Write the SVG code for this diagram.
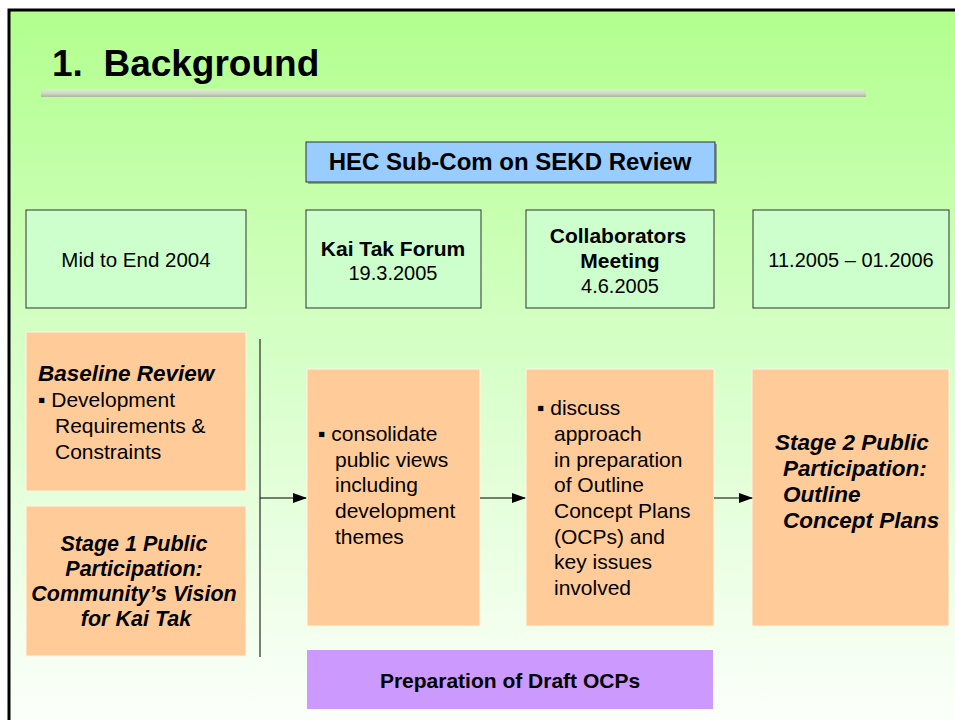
<svg xmlns="http://www.w3.org/2000/svg" width="955" height="720" viewBox="0 0 955 720">
  <defs>
    <linearGradient id="bg" x1="0" y1="0" x2="0" y2="1">
      <stop offset="0" stop-color="#b2ff8e"/>
      <stop offset="0.45" stop-color="#d4ffc4"/>
      <stop offset="1" stop-color="#fdfffc"/>
    </linearGradient>
    <linearGradient id="bar" x1="0" y1="0" x2="0" y2="1">
      <stop offset="0" stop-color="#dfead4"/>
      <stop offset="0.5" stop-color="#d0dcc4"/>
      <stop offset="1" stop-color="#a8b89c"/>
    </linearGradient>
    <marker id="arrow" markerWidth="14" markerHeight="10" refX="13" refY="5" orient="auto" markerUnits="userSpaceOnUse">
      <path d="M0,0 L14,5 L0,10 Z" fill="#000"/>
    </marker>
  </defs>
  <style>
    text { font-family: "Liberation Sans", Arial, sans-serif; fill: #000; }
    .title { font-size: 37px; font-weight: bold; white-space: pre; }
    .date { fill: #ccffcc; stroke: #333; stroke-width: 1; }
    .orange { fill: #ffcc99; stroke: #fff5e8; stroke-width: 1; }
    .b { font-weight: bold; }
    .bi { font-weight: bold; font-style: italic; font-size: 22.5px; }
    .bi1 { font-weight: bold; font-style: italic; font-size: 21.5px; }
    .t21 { font-size: 21px; }
    .d { font-size: 20px; }
    .mid { text-anchor: middle; }
    .conn { stroke: #000; stroke-width: 1; fill: none; }
  </style>

  <rect x="9" y="10" width="960" height="720" fill="url(#bg)" stroke="#000" stroke-width="3"/>

  <g id="title">
    <text class="title" x="52" y="76">1.  Background</text>
    <rect x="41" y="89" width="825" height="8" fill="url(#bar)"/>
  </g>

  <g id="hec">
    <rect x="308" y="144" width="409" height="40" fill="#555" opacity="0.5"/>
    <rect x="306" y="142" width="409" height="40" fill="#99ccff" stroke="#333" stroke-width="1"/>
    <text class="b mid" x="510" y="170" font-size="24">HEC Sub-Com on SEKD Review</text>
  </g>

  <g id="date1">
    <rect class="date" x="26" y="210" width="220" height="98"/>
    <text class="mid" x="136" y="267" font-size="20.5">Mid to End 2004</text>
  </g>
  <g id="date2">
    <rect class="date" x="306" y="210" width="175" height="98"/>
    <text class="b mid" x="393" y="256" font-size="21">Kai Tak Forum</text>
    <text class="d mid" x="393" y="280">19.3.2005</text>
  </g>
  <g id="date3">
    <rect class="date" x="526" y="210" width="188" height="98"/>
    <text class="b mid" x="618" y="243" font-size="21">Collaborators</text>
    <text class="b mid" x="620" y="268" font-size="21">Meeting</text>
    <text class="d mid" x="620" y="293">4.6.2005</text>
  </g>
  <g id="date4">
    <rect class="date" x="753" y="210" width="196" height="98"/>
    <text class="d mid" x="851" y="267">11.2005 – 01.2006</text>
  </g>

  <g id="baseline">
    <rect class="orange" x="26" y="332" width="220" height="159"/>
    <text class="bi" x="38" y="381">Baseline Review</text>
    <text class="t21" x="38" y="407">▪ Development</text>
    <text class="t21" x="55" y="433">Requirements &amp;</text>
    <text class="t21" x="55" y="459">Constraints</text>
  </g>

  <g id="stage1">
    <rect class="orange" x="26" y="506" width="220" height="150"/>
    <text class="bi1 mid" x="134" y="551">Stage 1 Public</text>
    <text class="bi1 mid" x="134" y="576">Participation:</text>
    <text class="bi1 mid" x="134" y="601">Community’s Vision</text>
    <text class="bi1 mid" x="136" y="626">for Kai Tak</text>
  </g>

  <g id="consolidate">
    <rect class="orange" x="307" y="369" width="173" height="257"/>
    <text class="t21" x="318" y="441">▪ consolidate</text>
    <text class="t21" x="335" y="467">public views</text>
    <text class="t21" x="335" y="492">including</text>
    <text class="t21" x="335" y="518">development</text>
    <text class="t21" x="335" y="544">themes</text>
  </g>

  <g id="discuss">
    <rect class="orange" x="526" y="369" width="188" height="257"/>
    <text class="t21" x="537" y="415">▪  discuss</text>
    <text class="t21" x="554" y="441">approach</text>
    <text class="t21" x="554" y="467">in preparation</text>
    <text class="t21" x="554" y="492">of Outline</text>
    <text class="t21" x="554" y="518">Concept Plans</text>
    <text class="t21" x="554" y="544">(OCPs) and</text>
    <text class="t21" x="554" y="569">key issues</text>
    <text class="t21" x="554" y="595">involved</text>
  </g>

  <g id="stage2">
    <rect class="orange" x="752" y="369" width="197" height="257"/>
    <text class="bi" x="775" y="450">Stage 2 Public</text>
    <text class="bi" x="783" y="476">Participation:</text>
    <text class="bi" x="783" y="502">Outline</text>
    <text class="bi" x="783" y="528">Concept Plans</text>
  </g>

  <g id="draft">
    <rect x="307" y="650" width="406" height="59" fill="#cc99ff"/>
    <text class="b mid" x="510" y="688" font-size="21">Preparation of Draft OCPs</text>
  </g>

  <g id="connectors">
    <line class="conn" x1="260" y1="339" x2="260" y2="657"/>
    <line class="conn" x1="260" y1="498" x2="306" y2="498" marker-end="url(#arrow)"/>
    <line class="conn" x1="480" y1="498" x2="525" y2="498" marker-end="url(#arrow)"/>
    <line class="conn" x1="714" y1="498" x2="752" y2="498" marker-end="url(#arrow)"/>
  </g>
</svg>
